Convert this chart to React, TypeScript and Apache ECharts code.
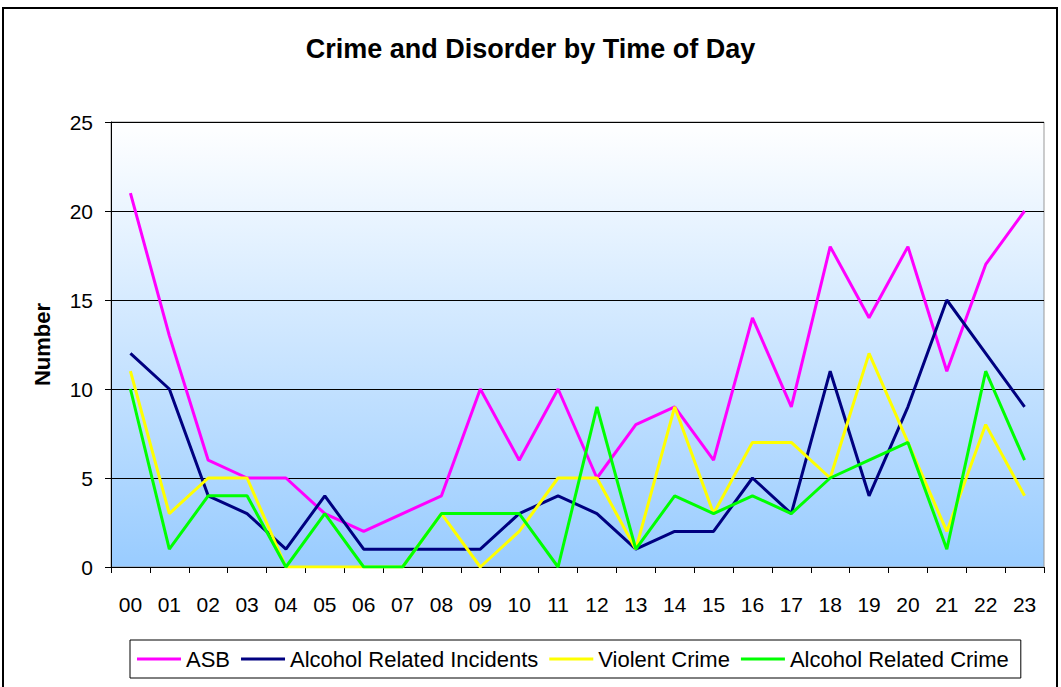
import React, { useEffect, useRef } from "react";
import * as echarts from "echarts";

const hours = ["00","01","02","03","04","05","06","07","08","09","10","11","12","13","14","15","16","17","18","19","20","21","22","23"];
const asb = [21, 13, 6, 5, 5, 3, 2, 3, 4, 10, 6, 10, 5, 8, 9, 6, 14, 9, 18, 14, 18, 11, 17, 20];
const alcoholIncidents = [12, 10, 4, 3, 1, 4, 1, 1, 1, 1, 3, 4, 3, 1, 2, 2, 5, 3, 11, 4, 9, 15, 12, 9];
const violentCrime = [11, 3, 5, 5, 0, 0, 0, 0, 3, 0, 2, 5, 5, 1, 9, 3, 7, 7, 5, 12, 7, 2, 8, 4];
const alcoholCrime = [10, 1, 4, 4, 0, 3, 0, 0, 3, 3, 3, 0, 9, 1, 4, 3, 4, 3, 5, 6, 7, 1, 11, 6];

const seriesNames = ["ASB", "Alcohol Related Incidents", "Violent Crime", "Alcohol Related Crime"];
const seriesData = [asb, alcoholIncidents, violentCrime, alcoholCrime];
const seriesColors = ["#FF00FF", "#000080", "#FFFF00", "#00FF00"];

const FONT = "'Liberation Sans', Arial, sans-serif";

export default function App() {
  const ref = useRef<HTMLDivElement>(null);
  useEffect(() => {
    if (!ref.current) return;
    const chart = echarts.init(ref.current, null, { renderer: "svg" });
    chart.setOption({
      animation: false,
      backgroundColor: "#ffffff",
      title: {
        text: "Crime and Disorder by Time of Day",
        left: "center",
        top: 30,
        textStyle: { fontFamily: FONT, fontSize: 27, fontWeight: "bold", color: "#000" },
      },
      graphic: [
        {
          type: "rect",
          shape: { x: 3, y: 8, width: 1054, height: 700 },
          style: { fill: "none", stroke: "#000", lineWidth: 2 },
          silent: true,
        },
      ],
      legend: {
        left: 130,
        top: 640,
        data: seriesNames,
        icon: "rect",
        itemWidth: 44,
        itemHeight: 3,
        itemGap: 11,
        borderColor: "#000",
        borderWidth: 1,
        padding: [8, 12, 8, 7],
        textStyle: { fontFamily: FONT, fontSize: 22, color: "#000" },
      },
      grid: {
        left: 111,
        right: 17,
        top: 122,
        bottom: 120,
        show: true,
        borderColor: "#999",
        borderWidth: 1,
        backgroundColor: new echarts.graphic.LinearGradient(0, 0, 0, 1, [
          { offset: 0, color: "#FFFFFF" },
          { offset: 1, color: "#99CCFF" },
        ]),
      },
      xAxis: {
        type: "category",
        data: hours,
        boundaryGap: true,
        axisLine: { lineStyle: { color: "#000", width: 1 } },
        axisTick: { show: true, alignWithLabel: false, length: 6, lineStyle: { color: "#000" } },
        axisLabel: { fontFamily: FONT, fontSize: 21, color: "#000", margin: 27 },
      },
      yAxis: {
        type: "value",
        min: 0,
        max: 25,
        interval: 5,
        name: "Number",
        nameLocation: "middle",
        nameGap: 58,
        nameTextStyle: { fontFamily: FONT, fontSize: 22, fontWeight: "bold", color: "#000" },
        axisLine: { show: true, lineStyle: { color: "#000", width: 1 } },
        axisTick: { show: true, length: 6, lineStyle: { color: "#000" } },
        axisLabel: { fontFamily: FONT, fontSize: 21, color: "#000", margin: 18 },
        splitLine: { show: true, lineStyle: { color: "#000", width: 1 } },
      },
      series: seriesNames.map((name, i) => ({
        name,
        type: "line",
        data: seriesData[i],
        symbol: "none",
        color: seriesColors[i],
        lineStyle: { width: 3, color: seriesColors[i] },
      })),
    });
    return () => chart.dispose();
  }, []);
  return (
    <div
      ref={ref}
      style={{ position: "fixed", left: 0, top: 0, width: 1061, height: 687 }}
    />
  );
}
